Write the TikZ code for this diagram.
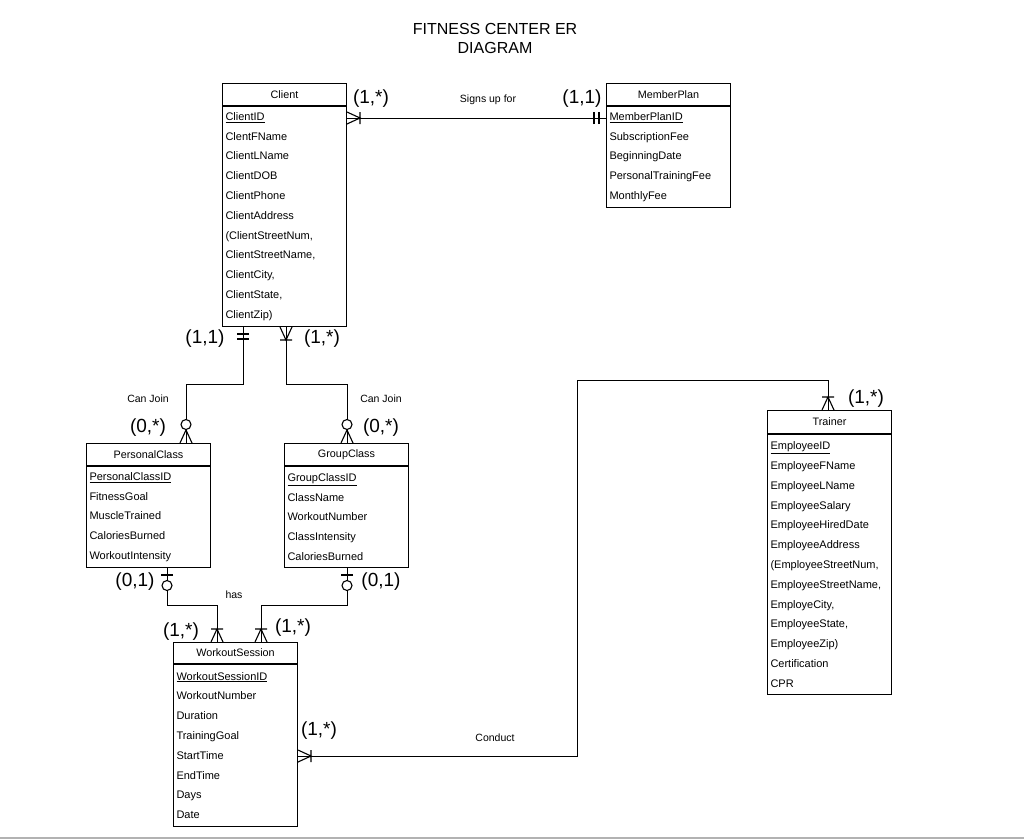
\documentclass[tikz,border=0pt]{standalone}
\usepackage{fontspec}
\setmainfont{Liberation Sans}
\usetikzlibrary{positioning}

\tikzset{
    enthead/.style={draw, line width=1pt, minimum width=124pt, minimum height=22pt, inner sep=0pt, anchor=north west, font=\fontsize{10.8}{12}\selectfont},
    entbody/.style={draw, line width=1pt, text width=118pt, align=left, inner sep=3pt, anchor=north west, font=\fontsize{11}{19.8}\selectfont},
    card/.style={font=\fontsize{19}{22}\selectfont},
    rel/.style={font=\fontsize{10.5}{12}\selectfont},
    % end marks, drawn from the entity edge outward along +x
    manybar/.pic={\draw[line width=1.1pt] (0,-6) -- (13,0) -- (0,6) (13,-6) -- (13,6);},
    oneone/.pic={\draw[line width=1.1pt] (7,-6) -- (7,6) (12,-6) -- (12,6);},
    zeromany/.pic={\draw[line width=1.1pt] (0,-6) -- (13,0) -- (0,6); \draw[line width=1.1pt, fill=white] (18.5,0) circle (5);},
    zeroone/.pic={\draw[line width=1.1pt] (7,-6) -- (7,6); \draw[line width=1.1pt, fill=white] (17.5,0) circle (5);}
}

\begin{document}
\begin{tikzpicture}[x=1pt,y=-1pt]
    \useasboundingbox (0,0) rectangle (1024,839);

    \node[align=center, font=\fontsize{16}{19}\selectfont] (title) at (495,38) {FITNESS CENTER ER\\DIAGRAM};

    % entities
    \node[enthead] (client) at (222,83) {Client};
    \node[entbody, minimum height=220pt] (clientb) at (client.south west) {\underline{ClientID}\\ClentFName\\ClientLName\\ClientDOB\\ClientPhone\\ClientAddress\\(ClientStreetNum,\\ClientStreetName,\\ClientCity,\\ClientState,\\ClientZip)};

    \node[enthead] (mplan) at (606,83) {MemberPlan};
    \node[entbody, minimum height=101pt] (mplanb) at (mplan.south west) {\underline{MemberPlanID}\\SubscriptionFee\\BeginningDate\\PersonalTrainingFee\\MonthlyFee};

    \node[enthead] (pclass) at (86,443) {PersonalClass};
    \node[entbody, minimum height=101pt] (pclassb) at (pclass.south west) {\underline{PersonalClassID}\\FitnessGoal\\MuscleTrained\\CaloriesBurned\\WorkoutIntensity};

    \node[enthead] (gclass) at (284,443) {GroupClass};
    \node[entbody, minimum height=101pt] (gclassb) at (gclass.south west) {\underline{GroupClassID}\\ClassName\\WorkoutNumber\\ClassIntensity\\CaloriesBurned};

    \node[enthead, minimum height=21pt] (wsess) at (173,642) {WorkoutSession};
    \node[entbody, minimum height=162pt] (wsessb) at (wsess.south west) {\underline{WorkoutSessionID}\\WorkoutNumber\\Duration\\TrainingGoal\\StartTime\\EndTime\\Days\\Date};

    \node[enthead, minimum height=23pt] (trainer) at (767,410) {Trainer};
    \node[entbody, minimum height=260pt] (trainerb) at (trainer.south west) {\underline{EmployeeID}\\EmployeeFName\\EmployeeLName\\EmployeeSalary\\EmployeeHiredDate\\EmployeeAddress\\(EmployeeStreetNum,\\EmployeeStreetName,\\EmployeCity,\\EmployeeState,\\EmployeeZip)\\Certification\\CPR};

    % connector ends
    \coordinate (sA) at ([yshift=-12pt]clientb.north east);
    \coordinate (eA) at (sA -| mplanb.west);
    \coordinate (sB) at ([xshift=21pt]clientb.south west);
    \coordinate (eB) at ([xshift=-25pt]pclass.north east);
    \coordinate (sC) at ([xshift=-61pt]clientb.south east);
    \coordinate (eC) at ([xshift=-62pt]gclass.north east);
    \coordinate (sD) at ([xshift=-44pt]pclassb.south east);
    \coordinate (eD) at ([xshift=44pt]wsess.north west);
    \coordinate (sE) at ([xshift=-62pt]gclassb.south east);
    \coordinate (eE) at ([xshift=-37pt]wsess.north east);
    \coordinate (sF) at ([yshift=-92pt]wsessb.north east);
    \coordinate (eF) at ([xshift=61pt]trainer.north west);

    % relationships
    \draw[line width=1pt] (sA) -- (eA);
    \draw[line width=1pt] (sB) -- ++(0,57) -| (eB);
    \draw[line width=1pt] (sC) -- ++(0,57) -| (eC);
    \draw[line width=1pt] (sD) -- ++(0,37) -| (eD);
    \draw[line width=1pt] (sE) -- ++(0,37) -| (eE);
    \draw[line width=1pt] (sF) -- ++(279,0) -- ++(0,-376) -| (eF);

    \pic at (sA) {manybar};
    \pic[rotate=180] at (eA) {oneone};
    \pic[rotate=-90] at (sB) {oneone};
    \pic[rotate=90] at (eB) {zeromany};
    \pic[rotate=-90] at (sC) {manybar};
    \pic[rotate=90] at (eC) {zeromany};
    \pic[rotate=-90] at (sD) {zeroone};
    \pic[rotate=90] at (eD) {manybar};
    \pic[rotate=-90] at (sE) {zeroone};
    \pic[rotate=90] at (eE) {manybar};
    \pic at (sF) {manybar};
    \pic[rotate=90] at (eF) {manybar};

    % labels
    \node[rel] (lsign) at (488,100) {Signs up for};
    \node[rel] (ljoin1) at (148,399) {Can Join};
    \node[rel] (ljoin2) at (381,399) {Can Join};
    \node[rel] (lhas) at (234,595) {has};
    \node[rel] (lcond) at (495,738) {Conduct};

    \node[card] (cA1) at (371,99) {(1,*)};
    \node[card] (cA2) at (582,99) {(1,1)};
    \node[card] (cB1) at (205,339) {(1,1)};
    \node[card] (cC1) at (322,339) {(1,*)};
    \node[card] (cB2) at (148,428) {(0,*)};
    \node[card] (cC2) at (381,428) {(0,*)};
    \node[card] (cD1) at (135,582) {(0,1)};
    \node[card] (cE1) at (381,582) {(0,1)};
    \node[card] (cD2) at (181,632) {(1,*)};
    \node[card] (cE2) at (293,628) {(1,*)};
    \node[card] (cF1) at (319,731) {(1,*)};
    \node[card] (cF2) at (866,399) {(1,*)};

    \draw[gray!60, line width=1.5pt] (0,838) -- (1024,838);
\end{tikzpicture}
\end{document}
